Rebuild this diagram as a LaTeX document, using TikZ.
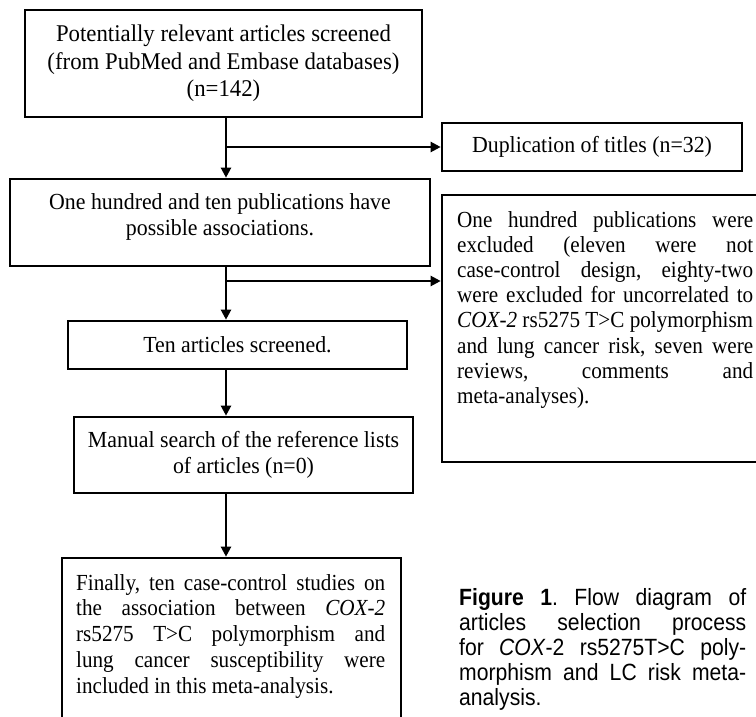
\documentclass[tikz,border=0pt]{standalone}
\usepackage{fontspec}
\setmainfont{Liberation Serif}[FakeStretch=0.95]
\newfontfamily\jfont{Liberation Serif}[FakeStretch=0.92]
\newfontfamily\capfont{Liberation Sans}[FakeStretch=0.9]
\usetikzlibrary{arrows.meta}
\newcommand{\jl}[2]{\makebox[#1][s]{#2}}
\frenchspacing
\begin{document}
\begin{tikzpicture}[x=1pt,y=-1pt,
  box/.style={draw, line width=2.6pt, inner sep=0pt},
  txt/.style={font=\fontsize{23}{25.5}\selectfont, align=center, inner sep=0pt},
  jtxt/.style={font=\jfont\fontsize{23}{25.2}\selectfont, align=left, inner sep=0pt},
  captxt/.style={font=\capfont\fontsize{23.5}{25}\selectfont, align=left, inner sep=0pt},
  arr/.style={line width=2.2pt, -{Triangle[length=10pt,width=10pt]}}]
\clip (0,0) rectangle (756,717);
% boxes
\node[box, minimum width=397pt, minimum height=107pt] (b1) at (223.5,63.5) {};
\node[box, minimum width=300pt, minimum height=48pt] (dup) at (592,147) {};
\node[box, minimum width=420pt, minimum height=87pt] (b2) at (220,222.5) {};
\node[box, minimum width=333pt, minimum height=267pt] (ex) at (608.5,328.5) {};
\node[box, minimum width=339pt, minimum height=48pt] (b3) at (237.5,345) {};
\node[box, minimum width=339pt, minimum height=76pt] (b4) at (243.5,455) {};
\node[box, minimum width=339pt, minimum height=190pt] (b5) at (231.5,653) {};
% texts
\node[txt, font=\fontsize{24}{27.5}\selectfont] (t1) at (b1.center) {Potentially relevant articles screened\\(from PubMed and Embase databases)\\(n=142)};
\node[txt] (tdup) at (dup.center) {Duplication of titles (n=32)};
\node[txt] (t2) at (220,217) {One hundred and ten publications have\\possible associations.};
\node[txt] (t3) at (b3.center) {Ten articles screened.};
\node[txt] (t4) at (b4.center) {Manual search of the reference lists\\of articles (n=0)};
\node[jtxt, anchor=north west] (tex) at (457,211) {%
\jl{296pt}{One hundred publications were}\\
\jl{296pt}{excluded (eleven were not}\\
\jl{296pt}{case-control design, eighty-two}\\
\jl{296pt}{were excluded for uncorrelated to}\\
\jl{296pt}{\textit{COX-2} rs5275 T>C polymorphism}\\
\jl{296pt}{and lung cancer risk, seven were}\\
\jl{296pt}{reviews, comments and}\\
meta-analyses).};
\node[jtxt, anchor=north west, font=\jfont\fontsize{23}{25.8}\selectfont] (t5) at (76,574) {%
\jl{309pt}{Finally, ten case-control studies on}\\
\jl{309pt}{the association between \textit{COX-2}}\\
\jl{309pt}{rs5275 T>C polymorphism and}\\
\jl{309pt}{lung cancer susceptibility were}\\
included in this meta-analysis.};
\node[captxt, anchor=north west] (cap) at (459,588) {%
\jl{287pt}{\textbf{Figure 1}. Flow diagram of}\\
\jl{287pt}{articles selection process}\\
\jl{287pt}{for \textit{COX}-2 rs5275T>C poly-}\\
\jl{287pt}{morphism and LC risk meta-}\\
analysis.};
% connectors
\coordinate (t) at (226,0);
\coordinate (j1) at (226,147);
\coordinate (j2) at (226,281);
\draw[arr] (b1.south -| t) -- (b2.north -| t);
\draw[arr] (j1) -- (dup.west);
\draw[arr] (b2.south -| t) -- (b3.north -| t);
\draw[arr] (j2) -- (ex.west |- j2);
\draw[arr] (b3.south -| t) -- (b4.north -| t);
\draw[arr] (b4.south -| t) -- (b5.north -| t);
\end{tikzpicture}
\end{document}
